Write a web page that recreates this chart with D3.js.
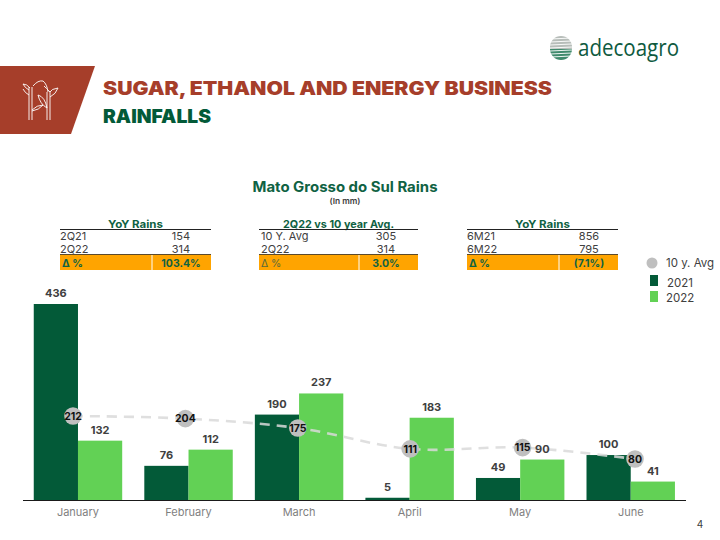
<!DOCTYPE html>
<html><head><meta charset="utf-8">
<script src="https://cdn.jsdelivr.net/npm/d3@7"></script>
<style>html,body{margin:0;background:#fff}svg{display:block}text{font-family:Inter,"DejaVu Sans",sans-serif}</style>
</head><body><svg id="c" width="720" height="540"></svg>
<script>
const months=["January","February","March","April","May","June"];
const series=["2021","2022"];
const values2021=[436,76,190,5,49,100];
const values2022=[132,112,237,183,90,41];
const avg10y=[212,204,175,111,115,80];
const yTop=436;
const tableTitles=["YoY Rains","2Q22 vs 10 year Avg.","YoY Rains"];
const rowLabels=[["2Q21","2Q22"],["10 Y. Avg","2Q22"],["6M21","6M22"]];
const rowValues=[[154,314],[305,314],[856,795]];
const deltas=["103.4%","3.0%","(7.1%)"];
const tableLeft=[60,259,467],tableWidth=[151,159,151],tableSplit=[92,100,92],valueX=[121,127,122];
const DARK="#035a38",LIGHT="#62d155",RED="#a63e2a",GREY="#bfbfbf",TITLE="#0f6243",ORANGE="#ffa400";
const svg=d3.select("#c");
const txt=(x,y,s,size,fill,weight,anchor,len)=>{const t=svg.append("text").attr("x",x).attr("y",y).text(s)
 .attr("font-size",size).attr("fill",fill).attr("font-weight",weight||400).attr("text-anchor",anchor||"start");
 if(len)t.attr("textLength",len).attr("lengthAdjust","spacingAndGlyphs");return t;};

// header
svg.append("polygon").attr("points","0,66 95,66 71,134 0,134").attr("fill",RED);
const icon=svg.append("g").attr("fill","none").attr("stroke","#fff").attr("stroke-width",.9);
["M29,120V87 M32,120V87","M47,120V92 M50,120V92",
 "M29,90Q25,88 23,84Q27,84 30,88 M29,95Q25,93 23,89 M33,86Q38,80 43,81Q47,84 48,92",
 "M50,92Q51,89 58,88Q56,94 50,97 M50,92Q46,88 44,86 M32,110Q37,105 43,105Q39,110 32,111 M47,108Q40,104 38,95Q45,97 47,108"].forEach(d=>icon.append("path").attr("d",d));
txt(103,95,"SUGAR, ETHANOL AND ENERGY BUSINESS",18.5,RED,900,"start",449);
txt(103,123,"RAINFALLS",18.5,DARK,900,"start",108);

// logo
const logo=svg.append("g");
logo.append("circle").attr("cx",561).attr("cy",47).attr("r",11).attr("fill","#b7bdb9");
logo.append("path").attr("d","M550,49H572A11,11 0 0 1 550,49Z").attr("fill","#3f8a6c");
d3.range(39,58,3).forEach(y=>logo.append("line").attr("x1",550).attr("x2",572).attr("y1",y).attr("y2",y-1).attr("stroke","#fff").attr("stroke-width",.9));
svg.append("text").attr("x",578).attr("y",56).text("adecoagro").attr("font-size",24).attr("fill","#0f5a3f")
 .attr("textLength",101).attr("lengthAdjust","spacingAndGlyphs").style("font-family",'"Open Sans"').attr("font-weight",500);

// titles
txt(345,192,"Mato Grosso do Sul Rains",14,TITLE,700,"middle",185);
txt(345,204,"(In mm)",8,"#404040",600,"middle",31);

// tables
tableTitles.forEach((title,i)=>{
 const x=tableLeft[i],w=tableWidth[i];
 txt(x+w/2,227.5,title,10.5,TITLE,700,"middle",i==1?111:55);
 svg.append("line").attr("x1",x).attr("x2",x+w).attr("y1",229.5).attr("y2",229.5).attr("stroke","#222");
 rowLabels[i].forEach((l,r)=>{
  txt(x+(i==1?2:0),240+r*12.7,l,11,"#404040",400,"start");
  txt(x+valueX[i],240+r*12.7,rowValues[i][r],11,"#404040",400,"middle");
 });
 svg.append("rect").attr("x",x).attr("y",255).attr("width",w).attr("height",15).attr("fill",ORANGE);
 svg.append("line").attr("x1",x).attr("x2",x+w).attr("y1",254.5).attr("y2",254.5).attr("stroke","#5b4a2c");
 svg.append("line").attr("x1",x+tableSplit[i]).attr("x2",x+tableSplit[i]).attr("y1",255).attr("y2",270).attr("stroke","#fff");
 txt(x+2,266.5,"Δ %",10.5,i==1?"#5a6a3a":TITLE,i==1?400:700);
 txt(x+valueX[i],266.5,deltas[i],10.5,TITLE,700,"middle");
});

// chart
const x0=d3.scaleBand().domain(months).range([22.7,686]).paddingInner(0.2).paddingOuter(0.1);
const x1=d3.scaleBand().domain(series).range([0,x0.bandwidth()]);
const y=d3.scaleLinear().domain([0,yTop]).range([500,304]);
const yAvg=d3.scaleLinear().domain([80,212]).range([459,416]);
const xAvg=d3.scalePoint().domain(months).range([73,635]);
const cols={"2021":DARK,"2022":LIGHT};
[values2021,values2022].forEach((vals,s)=>{
 svg.append("g").selectAll("rect").data(vals).join("rect")
  .attr("x",(d,i)=>x0(months[i])+x1(series[s])).attr("width",x1.bandwidth())
  .attr("y",d=>y(d)).attr("height",d=>500-y(d)).attr("fill",cols[series[s]]);
});
const axis=svg.append("g").attr("transform","translate(0,500)").call(d3.axisBottom(x0).tickSize(0).tickPadding(8));
axis.select(".domain").attr("stroke","#1a1a1a").attr("stroke-width",1.2).attr("d","M23,0.5H686");
axis.selectAll("text").attr("font-size",11).attr("fill","#7f7f7f").style("font-family","Inter");
const line=d3.line().x((d,i)=>xAvg(months[i])).y(d=>yAvg(d)).curve(d3.curveCatmullRom);
svg.append("path").attr("d",line(avg10y)).attr("fill","none").attr("stroke","#d9d9d9").attr("stroke-opacity",.85)
 .attr("stroke-width",2.6).attr("stroke-dasharray","10 7");
[values2021,values2022].forEach((vals,s)=>{
 svg.append("g").selectAll("text").data(vals).join("text")
  .attr("x",(d,i)=>x0(months[i])+x1(series[s])+x1.bandwidth()/2).attr("y",d=>y(d)-7)
  .attr("text-anchor","middle").attr("font-size",11).attr("font-weight",700).attr("fill","#404040").text(d=>d);
});
const pts=svg.append("g").selectAll("g").data(avg10y).join("g").attr("transform",(d,i)=>`translate(${xAvg(months[i])},${yAvg(d)})`);
pts.append("circle").attr("r",8.8).attr("fill",GREY);
pts.append("text").attr("text-anchor","middle").attr("dy",3.8).attr("font-size",10.5).attr("font-weight",700).attr("fill","#111").text(d=>d);

// legend
svg.append("circle").attr("cx",652).attr("cy",263).attr("r",5.5).attr("fill",GREY);
txt(666,267,"10 y. Avg",11.5,"#404040");
svg.append("rect").attr("x",650).attr("y",275).attr("width",8).attr("height",11).attr("fill",DARK);
txt(667,287,series[0],11.5,"#404040");
svg.append("rect").attr("x",650).attr("y",291).attr("width",8).attr("height",11).attr("fill",LIGHT);
txt(666,302,series[1],11.5,"#404040");
txt(700,528,"4",10,"#404040","400","middle");
</script></body></html>
